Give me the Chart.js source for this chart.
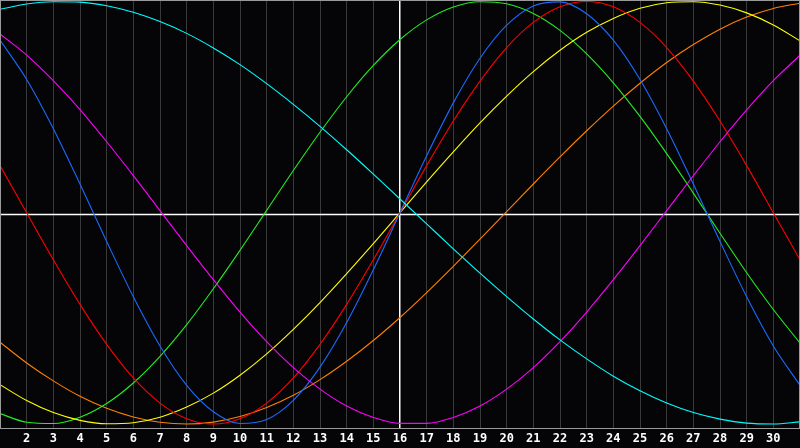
<!DOCTYPE html>
<html>
<head>
<meta charset="utf-8">
<script src="https://cdn.jsdelivr.net/npm/chart.js@4"></script>
<style>
  html, body { margin: 0; padding: 0; background: #050508; }
  #wrap { width: 800px; height: 448px; }
</style>
</head>
<body>
<div id="wrap"><canvas id="myChart"></canvas></div>
<script>
const xs = [1, 2, 3, 4, 5, 6, 7, 8, 9, 10, 11, 12, 13, 14, 15, 16,
    17, 18, 19, 20, 21, 22, 23, 24, 25, 26, 27, 28, 29, 30, 31];

const cyanValues = [0.963, 0.988, 0.999, 0.997, 0.980, 0.949, 0.905, 0.849, 0.780, 0.701, 0.611,
    0.513, 0.409, 0.298, 0.183, 0.065, -0.053, -0.171, -0.286, -0.397, -0.503,
    -0.602, -0.692, -0.774, -0.843, -0.901, -0.946, -0.977, -0.996, -1.000, -0.990];
const blueValues = [0.817, 0.631, 0.398, 0.136, -0.136, -0.398, -0.631, -0.817, -0.942, -0.998, -0.979,
    -0.888, -0.731, -0.520, -0.270, 0.000, 0.270, 0.520, 0.731, 0.888, 0.979,
    0.998, 0.942, 0.817, 0.631, 0.398, 0.136, -0.136, -0.398, -0.631, -0.817];
const redValues = [0.223, 0.000, -0.223, -0.434, -0.623, -0.782, -0.901, -0.975, -1.000, -0.975, -0.901,
    -0.782, -0.623, -0.434, -0.223, 0.000, 0.223, 0.434, 0.623, 0.782, 0.901,
    0.975, 1.000, 0.975, 0.901, 0.782, 0.623, 0.434, 0.223, 0.000, -0.223];
const yellowValues = [-0.814, -0.889, -0.946, -0.983, -0.999, -0.994, -0.968, -0.920, -0.854, -0.769, -0.668,
    -0.552, -0.425, -0.288, -0.146, 0.000, 0.146, 0.288, 0.425, 0.552, 0.668,
    0.769, 0.854, 0.920, 0.968, 0.994, 0.999, 0.983, 0.946, 0.889, 0.814];
const greenValues = [-0.951, -0.992, -0.998, -0.968, -0.903, -0.806, -0.680, -0.530, -0.360, -0.178, 0.011,
    0.200, 0.381, 0.549, 0.697, 0.820, 0.913, 0.974, 0.999, 0.989, 0.943,
    0.863, 0.752, 0.615, 0.456, 0.280, 0.093, -0.097, -0.284, -0.458, -0.617];
const orangeValues = [-0.613, -0.711, -0.796, -0.869, -0.926, -0.967, -0.992, -1.000, -0.991, -0.965, -0.922,
    -0.864, -0.790, -0.703, -0.605, -0.496, -0.378, -0.254, -0.125, 0.005, 0.136,
    0.264, 0.388, 0.505, 0.613, 0.711, 0.796, 0.869, 0.926, 0.967, 0.992];
const magentaValues = [0.846, 0.746, 0.625, 0.488, 0.336, 0.176, 0.010, -0.156, -0.317, -0.470, -0.610,
    -0.733, -0.835, -0.915, -0.969, -0.997, -0.997, -0.969, -0.915, -0.835, -0.733,
    -0.610, -0.470, -0.317, -0.156, 0.010, 0.175, 0.336, 0.487, 0.625, 0.746];

const series = [
    { name: "cyan", values: cyanValues, color: "#00ffff" },
    { name: "magenta", values: magentaValues, color: "#ff00ff" },
    { name: "blue", values: blueValues, color: "#1a6bff" },
    { name: "red", values: redValues, color: "#ff0000" },
    { name: "yellow", values: yellowValues, color: "#ffff00" },
    { name: "green", values: greenValues, color: "#22ee22" },
    { name: "orange", values: orangeValues, color: "#ff8000" },
];

// frame + centre crosshair
const framePlugin = {
    id: "frame",
    beforeDatasetsDraw(chart) {
        const { ctx, chartArea: a } = chart;
        ctx.save();
        ctx.strokeStyle = "#ffffff";
        ctx.lineWidth = 1.5;
        const cy = Math.round((a.top + a.bottom) / 2) + 0.5;
        ctx.beginPath();
        ctx.moveTo(a.left, cy);
        ctx.lineTo(a.right, cy);
        ctx.stroke();
        ctx.restore();
    },
    afterDraw(chart) {
        const { ctx, chartArea: a } = chart;
        ctx.save();
        ctx.strokeStyle = "#9a9a9a";
        ctx.lineWidth = 1;
        ctx.strokeRect(a.left + 0.5, a.top + 0.5, a.right - a.left - 1, a.bottom - a.top);
        ctx.restore();
    },
};

const ctx = document.getElementById("myChart");

new Chart(ctx, {
    type: "line",
    data: {
        datasets: series.map((s) => ({
            label: s.name,
            data: xs.map((x, i) => ({ x: x, y: s.values[i] })),
            borderColor: s.color,
            borderWidth: 1.1,
            pointRadius: 0,
            cubicInterpolationMode: "monotone",
            fill: false,
        })),
    },
    options: {
        responsive: true,
        maintainAspectRatio: false,
        animation: false,
        layout: { padding: 0 },
        plugins: {
            legend: { display: false },
            tooltip: { enabled: false },
        },
        scales: {
            x: {
                type: "linear",
                min: 1,
                max: 31,
                border: { display: false },
                grid: {
                    drawTicks: false,
                    color: (c) => (c.tick && c.tick.value === 16 ? "#ffffff" : "#3a3a3a"),
                    lineWidth: (c) => (c.tick && c.tick.value === 16 ? 1.5 : 1),
                },
                ticks: {
                    stepSize: 1,
                    autoSkip: false,
                    maxRotation: 0,
                    padding: 4,
                    color: "#ffffff",
                    font: { family: "DejaVu Sans Mono", size: 12, weight: "bold" },
                    callback: (v) => (v === 1 || v === 31 ? "" : v),
                },
                afterFit: (scale) => {
                    scale.paddingLeft = 0;
                    scale.paddingRight = 0;
                    scale.height = 20;
                },
            },
            y: {
                display: false,
                min: -1.019,
                max: 1.007,
            },
        },
    },
    plugins: [framePlugin],
});
</script>
</body>
</html>
